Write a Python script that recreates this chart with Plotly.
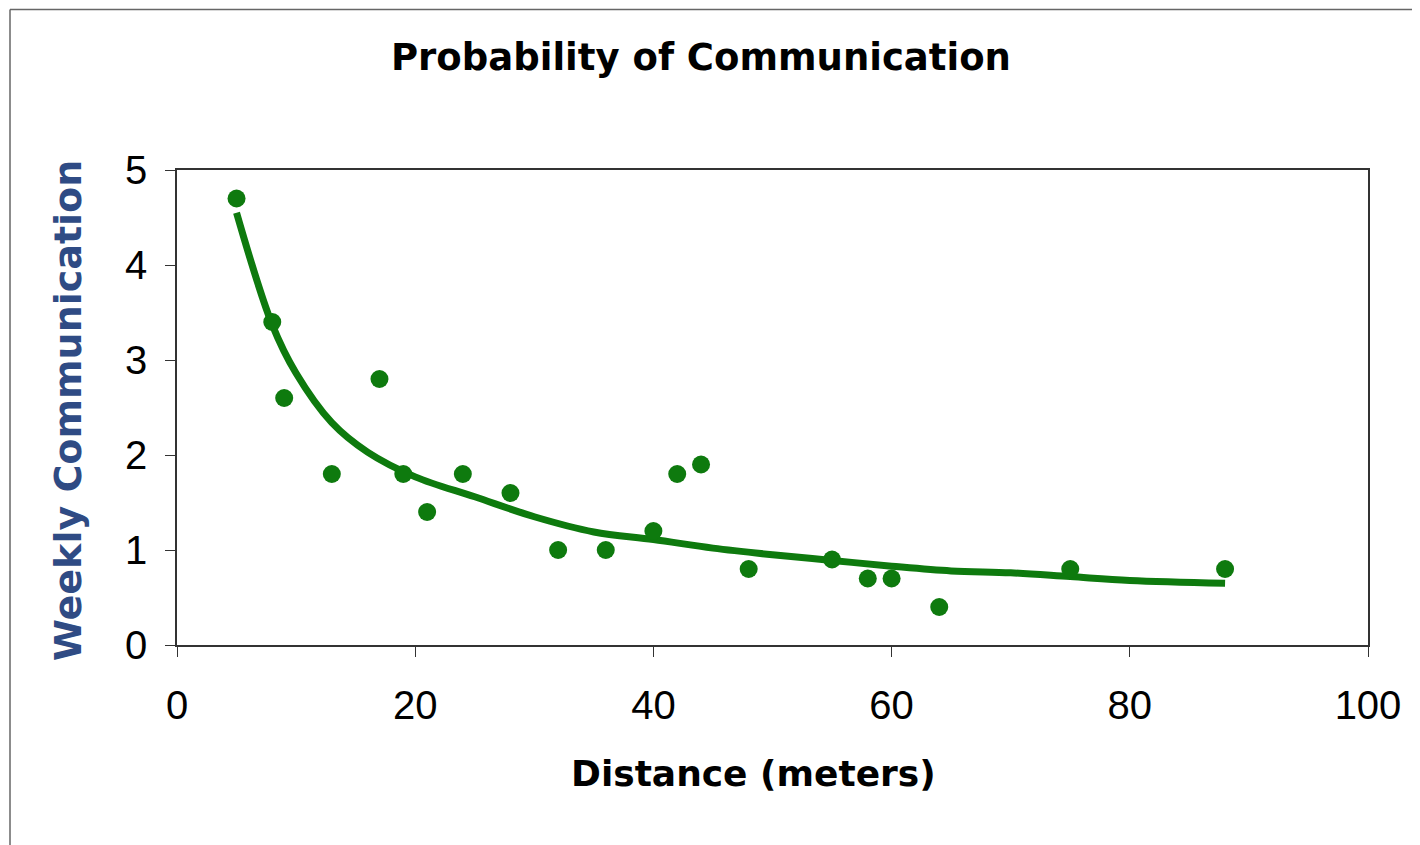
import plotly.graph_objects as go

# Observed data points
distance = [5, 8, 9, 13, 17, 19, 21, 24, 28, 32, 36, 40, 42, 44, 48, 55, 58, 60, 64, 75, 88]
weekly = [4.7, 3.4, 2.6, 1.8, 2.8, 1.8, 1.4, 1.8, 1.6, 1.0, 1.0, 1.2, 1.8, 1.9, 0.8, 0.9, 0.7, 0.7, 0.4, 0.8, 0.8]

# Trend line values
trend_x = [5, 8, 10, 13, 16, 20, 25, 30, 35, 40, 45, 50, 55, 60, 65, 70, 75, 80, 88]
trend_y = [4.55, 3.37, 2.86, 2.34, 2.03, 1.77, 1.56, 1.35, 1.19, 1.11, 1.02, 0.95, 0.89, 0.83, 0.78, 0.76, 0.72, 0.68, 0.65]

x_ticks = [0, 20, 40, 60, 80, 100]
y_ticks = [0, 1, 2, 3, 4, 5]

GREEN = "#0E7A0E"
TITLE_FONT = "DejaVu Sans"

fig = go.Figure()
fig.add_trace(go.Scatter(x=trend_x, y=trend_y, mode="lines",
                         line=dict(color=GREEN, width=7, shape="spline"),
                         showlegend=False, hoverinfo="skip"))
fig.add_trace(go.Scatter(x=distance, y=weekly, mode="markers",
                         marker=dict(color=GREEN, size=18),
                         showlegend=False))

axis_common = dict(ticks="outside", ticklen=10, tickcolor="#333",
                   showline=True, linecolor="#333", linewidth=1.5,
                   mirror=True, showgrid=False, zeroline=False,
                   tickfont=dict(family="Liberation Sans", size=40, color="black"))

fig.update_layout(
    width=1420, height=845,
    margin=dict(l=169, r=60, t=162, b=208),
    paper_bgcolor="white", plot_bgcolor="white",
    xaxis=dict(range=[0, 100], tickvals=x_ticks, ticklabelstandoff=14, **axis_common),
    yaxis=dict(range=[0, 5], tickvals=y_ticks, ticklabelstandoff=10, **axis_common),
)

def px_x(p):
    return (p - 177) / 1191

def px_y(p):
    return (645 - p) / 475

fig.add_annotation(text="<b>Probability of Communication</b>", xref="paper", yref="paper",
                   x=px_x(701), y=px_y(57), showarrow=False,
                   xanchor="center", yanchor="middle",
                   font=dict(family=TITLE_FONT, size=37, color="black"))
fig.add_annotation(text="<b>Distance (meters)</b>", xref="paper", yref="paper",
                   x=px_x(753), y=px_y(773), showarrow=False,
                   xanchor="center", yanchor="middle",
                   font=dict(family=TITLE_FONT, size=36, color="black"))
fig.add_annotation(text="<b>Weekly Communication</b>", xref="paper", yref="paper",
                   x=px_x(68), y=px_y(411), showarrow=False, textangle=-90,
                   xanchor="center", yanchor="middle",
                   font=dict(family=TITLE_FONT, size=38, color="#2F4B84"))

# outer frame lines (top and left) of the picture
fig.add_shape(type="line", xref="paper", yref="paper",
              x0=px_x(10), x1=px_x(1430), y0=px_y(9.5), y1=px_y(9.5),
              line=dict(color="#666", width=1.5))
fig.add_shape(type="line", xref="paper", yref="paper",
              x0=px_x(10), x1=px_x(10), y0=px_y(9.5), y1=px_y(860),
              line=dict(color="#666", width=1.5))

fig.write_html("out.html")
